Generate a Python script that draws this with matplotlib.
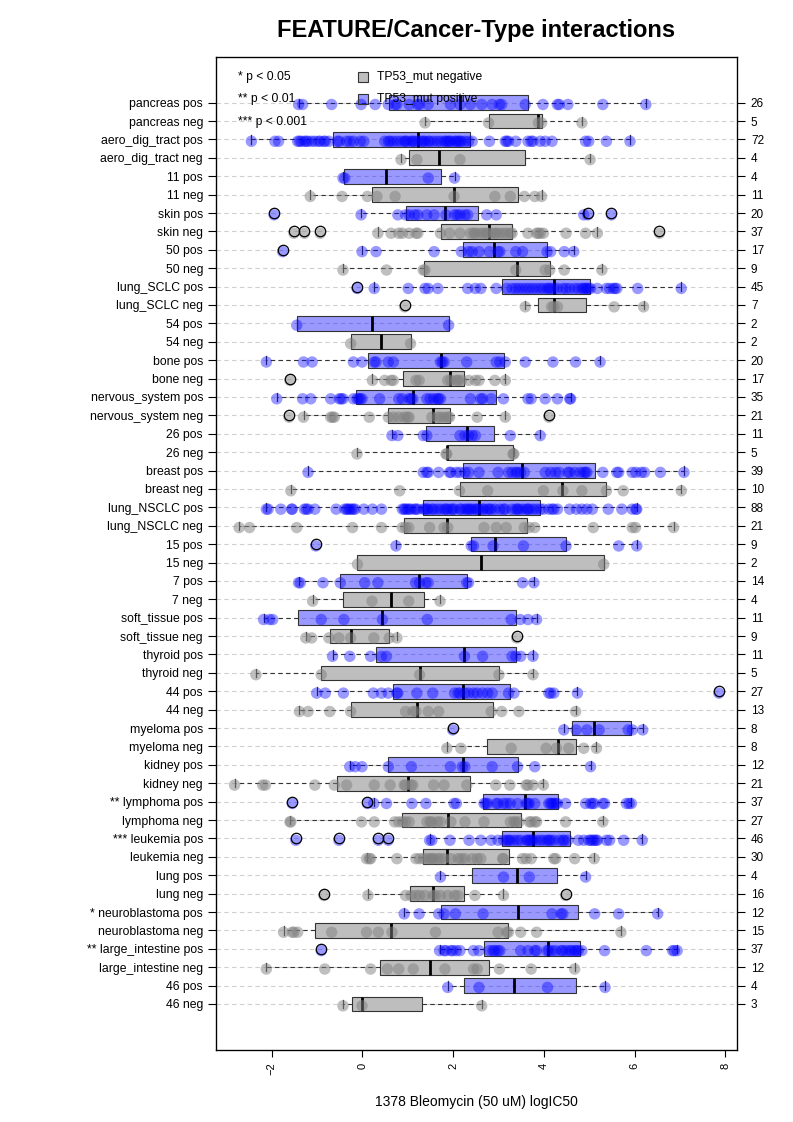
import numpy as np
import matplotlib.pyplot as plt

plt.rcParams['font.family'] = ['Liberation Sans', 'DejaVu Sans']

# rows listed top to bottom
labels = ["pancreas pos", "pancreas neg", "aero_dig_tract pos", "aero_dig_tract neg",
          "11 pos", "11 neg", "skin pos", "skin neg", "50 pos", "50 neg",
          "lung_SCLC pos", "lung_SCLC neg", "54 pos", "54 neg", "bone pos", "bone neg",
          "nervous_system pos", "nervous_system neg", "26 pos", "26 neg",
          "breast pos", "breast neg", "lung_NSCLC pos", "lung_NSCLC neg",
          "15 pos", "15 neg", "7 pos", "7 neg", "soft_tissue pos", "soft_tissue neg",
          "thyroid pos", "thyroid neg", "44 pos", "44 neg", "myeloma pos", "myeloma neg",
          "kidney pos", "kidney neg", "** lymphoma pos", "lymphoma neg",
          "*** leukemia pos", "leukemia neg", "lung pos", "lung neg",
          "* neuroblastoma pos", "neuroblastoma neg", "** large_intestine pos",
          "large_intestine neg", "46 pos", "46 neg"]

counts = [26, 5, 72, 4, 4, 11, 20, 37, 17, 9, 45, 7, 2, 2, 20, 17, 35, 21, 11, 5,
          39, 10, 88, 21, 9, 2, 14, 4, 11, 9, 11, 5, 27, 13, 8, 8, 12, 21, 37, 27,
          46, 30, 4, 16, 12, 15, 37, 12, 4, 3]

# box statistics
q1 = [0.59, 2.78, -0.65, 1.03, -0.41, 0.22, 0.95, 1.74, 2.22, 1.35,
      3.08, 3.88, -1.45, -0.26, 0.13, 0.90, -0.14, 0.57, 1.40, 1.86,
      2.21, 2.15, 1.34, 0.92, 2.40, -0.11, -0.49, -0.43, -1.43, -0.72,
      0.30, -0.91, 0.67, -0.26, 4.61, 2.74, 0.57, -0.56, 2.66, 0.88,
      3.07, 1.34, 2.42, 1.05, 1.74, -1.05, 2.68, 0.38, 2.24, -0.22]
med = [2.16, 3.88, 1.23, 1.68, 0.53, 2.02, 1.82, 2.80, 2.90, 3.40,
       4.22, 4.22, 0.22, 0.40, 1.74, 1.93, 1.12, 1.55, 2.30, 1.86,
       3.51, 4.40, 2.58, 1.86, 2.93, 2.61, 1.25, 0.62, 0.44, -0.26,
       2.25, 1.26, 2.21, 1.21, 5.11, 4.32, 2.22, 1.01, 3.58, 1.88,
       3.76, 1.86, 3.40, 1.55, 3.42, 0.63, 4.09, 1.48, 3.34, -0.01]
q3 = [3.66, 3.95, 2.38, 3.59, 1.74, 3.42, 2.55, 3.30, 4.07, 4.13,
      5.01, 4.93, 1.90, 1.06, 3.13, 2.24, 2.95, 1.94, 2.89, 3.32,
      5.12, 5.38, 3.92, 3.62, 4.49, 5.32, 2.31, 1.35, 3.39, 0.59,
      3.38, 3.01, 3.26, 2.88, 5.92, 4.72, 3.43, 2.38, 4.32, 3.49,
      4.57, 3.24, 4.30, 2.25, 4.76, 3.20, 4.80, 2.80, 4.72, 1.32]
wlo = [-1.41, 1.38, -2.45, 0.85, -0.43, -1.15, -0.03, 0.34, -0.01, -0.43,
       0.26, 3.59, -1.45, -0.26, -2.12, 0.22, -1.89, -1.30, 0.65, -0.12,
       -1.20, -1.58, -2.12, -2.72, 0.74, -0.11, -1.41, -1.10, -2.18, -1.25,
       -0.66, -2.35, -1.01, -1.39, 4.44, 1.86, -0.28, -2.82, 0.25, -1.60,
       1.48, 0.09, 1.72, 0.12, 0.92, -1.74, 1.70, -2.12, 1.88, -0.43]
whi = [6.25, 4.84, 5.90, 5.02, 2.03, 3.95, 4.88, 5.18, 4.66, 5.28,
       7.03, 6.20, 1.90, 1.06, 5.24, 3.15, 4.59, 3.15, 3.92, 3.34,
       7.09, 7.03, 6.05, 6.86, 6.05, 5.32, 3.78, 1.71, 3.84, 0.76,
       3.76, 3.76, 4.74, 4.70, 6.18, 5.16, 5.03, 3.99, 5.93, 5.30,
       6.17, 5.11, 4.92, 3.11, 6.51, 5.70, 6.94, 4.68, 5.35, 2.63]

outliers = [[], [], [], [], [], [], [-1.95, 4.97, 5.49], [-1.51, -1.28, -0.93, 6.55],
            [-1.76], [], [-0.12], [0.93], [], [], [], [-1.60], [], [-1.62, 4.11],
            [], [], [], [], [], [], [-1.03], [], [], [], [], [3.40],
            [], [], [7.86], [], [1.99], [], [], [], [-1.55, 0.11], [],
            [-1.47, -0.52, 0.35, 0.57], [], [], [-0.85, 4.48], [], [], [-0.91], [], [], []]

# individual cell lines (logIC50), one list per row
points = [
    [-1.41, -1.32, -0.68, -0.03, 0.28, 0.57, 0.72, 0.76, 1.03, 1.22, 1.26, 1.45, 1.94,
     2.15, 2.38, 2.63, 2.86, 3.02, 3.07, 3.59, 3.98, 4.30, 4.34, 4.53, 5.30, 6.25],
    [1.38, 2.78, 3.88, 3.95, 4.84],
    [-2.45, -1.93, -1.85, -1.43, -1.39, -1.35, -1.28, -1.24, -1.20, -1.12, -1.05, -0.97,
     -0.93, -0.85, -0.82, -0.74, -0.55, -0.51, -0.35, -0.28, -0.20, -0.05, 0.03, 0.49,
     0.57, 0.61, 0.68, 0.76, 0.84, 0.92, 0.95, 0.99, 1.07, 1.11, 1.15, 1.22, 1.30, 1.34,
     1.38, 1.45, 1.49, 1.57, 1.65, 1.72, 1.80, 1.84, 1.88, 1.92, 1.95, 2.03, 2.07, 2.11,
     2.15, 2.18, 2.26, 2.34, 2.42, 2.80, 3.15, 3.18, 3.22, 3.38, 3.65, 3.72, 3.76, 3.92,
     4.03, 4.18, 4.92, 4.99, 5.38, 5.90],
    [0.85, 1.20, 2.15, 5.02],
    [-0.43, -0.39, 1.45, 2.03],
    [-1.15, -0.45, 0.11, 0.32, 0.72, 2.02, 2.92, 3.26, 3.57, 3.80, 3.95],
    [-1.95, -0.03, 0.78, 0.95, 1.03, 1.15, 1.22, 1.42, 1.58, 1.84, 2.03, 2.09, 2.15,
     2.26, 2.32, 2.74, 2.95, 4.88, 4.97, 5.49],
    [-1.51, -1.28, -0.93, 0.34, 0.63, 0.80, 0.88, 1.03, 1.18, 1.22, 1.72, 1.92, 2.15,
     2.38, 2.45, 2.49, 2.57, 2.65, 2.72, 2.76, 2.84, 2.92, 2.95, 3.03, 3.11, 3.18, 3.26,
     3.30, 3.65, 3.84, 3.88, 3.92, 3.99, 4.49, 4.92, 5.18, 6.55],
    [-1.76, -0.01, 0.30, 1.58, 2.18, 2.34, 2.42, 2.57, 2.80, 2.99, 3.03, 3.38, 3.53,
     4.07, 4.15, 4.45, 4.66],
    [-0.43, 0.53, 1.34, 1.38, 3.38, 4.03, 4.13, 4.45, 5.28],
    [-0.12, 0.26, 1.01, 1.38, 1.45, 1.66, 2.32, 2.49, 2.61, 2.95, 3.18, 3.30, 3.38, 3.45,
     3.53, 3.61, 3.68, 3.76, 3.84, 3.92, 3.99, 4.07, 4.11, 4.15, 4.22, 4.30, 4.42, 4.49,
     4.57, 4.68, 4.76, 4.84, 4.88, 4.92, 4.95, 4.99, 5.03, 5.18, 5.38, 5.45, 5.53, 5.57,
     5.61, 6.07, 7.03],
    [0.93, 3.59, 4.17, 4.22, 4.30, 5.55, 6.20],
    [-1.45, 1.90],
    [-0.26, 1.06],
    [-2.12, -1.30, -1.11, -0.20, -0.01, 0.26, 0.30, 0.57, 0.68, 1.72, 1.76, 1.80, 2.30,
     2.95, 3.03, 3.15, 3.59, 4.20, 4.70, 5.24],
    [-1.60, 0.22, 0.49, 0.63, 0.68, 1.18, 1.25, 1.88, 1.95, 2.07, 2.11, 2.18, 2.34, 2.49,
     2.57, 2.92, 3.15],
    [-1.89, -1.32, -1.14, -0.70, -0.51, -0.47, -0.43, -0.20, -0.12, -0.08, -0.05, -0.01,
     0.38, 0.80, 0.88, 1.03, 1.07, 1.11, 1.42, 1.49, 1.57, 1.65, 1.68, 1.72, 2.38, 2.61,
     2.65, 2.84, 3.11, 3.65, 3.72, 4.03, 4.30, 4.57, 4.59],
    [-1.62, -1.30, -0.70, -0.66, -0.62, 0.15, 0.57, 0.68, 0.80, 0.92, 0.99, 1.03, 1.53,
     1.65, 1.72, 1.80, 1.88, 1.92, 2.53, 3.15, 4.11],
    [0.65, 0.78, 1.34, 1.42, 2.15, 2.26, 2.34, 2.42, 2.49, 3.26, 3.92],
    [-0.12, 1.84, 1.86, 3.32, 3.34],
    [-1.20, 1.34, 1.42, 1.45, 1.68, 1.92, 1.95, 2.07, 2.15, 2.26, 2.34, 2.57, 2.99, 3.22,
     3.30, 3.38, 3.42, 3.49, 3.57, 4.03, 4.15, 4.26, 4.34, 4.53, 4.57, 4.68, 4.80, 4.88,
     4.92, 4.95, 5.30, 5.61, 5.65, 5.95, 6.03, 6.15, 6.22, 6.57, 7.09],
    [-1.58, 0.82, 2.14, 2.76, 3.99, 4.42, 4.84, 5.38, 5.75, 7.03],
    [-2.12, -2.08, -1.80, -1.56, -1.55, -1.28, -1.24, -1.20, -1.05, -0.58, -0.39, -0.35,
     -0.32, -0.28, -0.24, -0.20, -0.16, 0.03, 0.22, 0.42, 0.88, 0.92, 0.95, 0.99, 1.03,
     1.07, 1.15, 1.18, 1.22, 1.34, 1.38, 1.42, 1.45, 1.53, 1.57, 1.65, 1.72, 1.80, 1.84,
     1.88, 1.95, 1.99, 2.03, 2.15, 2.18, 2.26, 2.30, 2.34, 2.38, 2.42, 2.49, 2.53, 2.57,
     2.65, 2.68, 2.76, 2.80, 2.84, 2.92, 3.03, 3.11, 3.15, 3.30, 3.38, 3.42, 3.45, 3.53,
     3.61, 3.65, 3.68, 3.76, 3.84, 3.92, 3.99, 4.11, 4.18, 4.22, 4.30, 4.57, 4.72, 4.84,
     4.95, 5.07, 5.42, 5.72, 5.95, 6.03, 6.05],
    [-2.72, -2.49, -1.45, -0.22, 0.42, 0.88, 0.95, 1.02, 1.48, 1.80, 1.88, 2.68, 2.95,
     3.17, 3.57, 3.68, 3.80, 5.09, 5.95, 6.02, 6.86],
    [-1.03, 0.74, 2.40, 2.45, 2.88, 3.55, 4.49, 5.65, 6.05],
    [-0.11, 5.32],
    [-1.41, -1.37, -0.87, -0.49, 0.05, 0.34, 1.17, 1.26, 1.40, 1.45, 2.30, 2.34, 3.53, 3.78],
    [-1.10, 0.21, 1.02, 1.71],
    [-2.18, -2.05, -1.98, -0.91, -0.41, 0.44, 1.43, 3.28, 3.48, 3.65, 3.84],
    [-1.25, -1.12, -0.74, -0.52, -0.26, 0.25, 0.59, 0.76, 3.40],
    [-0.66, -0.28, 0.18, 0.42, 0.53, 2.25, 2.65, 3.30, 3.38, 3.49, 3.76],
    [-2.35, -0.91, 1.26, 3.01, 3.76],
    [-1.01, -0.82, -0.42, 0.24, 0.42, 0.57, 0.76, 0.78, 1.20, 1.55, 2.03, 2.11, 2.15,
     2.26, 2.34, 2.45, 2.53, 2.65, 2.76, 2.86, 3.22, 3.34, 4.11, 4.15, 4.22, 4.74, 7.86],
    [-1.39, -1.20, -0.72, -0.26, 0.95, 1.11, 1.18, 1.45, 1.68, 2.84, 3.07, 3.45, 4.70],
    [1.99, 4.44, 4.71, 4.95, 5.22, 5.86, 5.95, 6.18],
    [1.86, 2.17, 3.28, 4.05, 4.28, 4.55, 4.88, 5.16],
    [-0.28, -0.16, -0.01, 0.57, 1.08, 1.94, 2.20, 2.26, 2.86, 3.42, 3.80, 5.03],
    [-2.82, -2.20, -2.14, -1.05, -0.62, -0.35, 0.26, 0.61, 0.92, 0.95, 1.07, 1.11, 1.57,
     1.80, 2.30, 2.94, 3.25, 3.61, 3.65, 3.76, 3.99],
    [-1.55, 0.11, 0.25, 0.53, 1.09, 1.40, 2.02, 2.07, 2.68, 2.72, 2.76, 2.95, 2.99, 3.11,
     3.18, 3.26, 3.42, 3.61, 3.65, 3.68, 3.80, 4.11, 4.15, 4.18, 4.22, 4.26, 4.30, 4.48,
     4.92, 5.03, 5.07, 5.11, 5.30, 5.34, 5.82, 5.88, 5.93],
    [-1.60, -1.58, -0.02, 0.26, 0.71, 0.80, 0.88, 0.95, 1.03, 1.42, 1.49, 1.53, 1.65,
     1.72, 1.95, 2.26, 2.68, 3.26, 3.34, 3.38, 3.45, 3.68, 3.72, 3.80, 3.84, 4.48, 5.30],
    [-1.47, -0.52, 0.35, 0.57, 1.48, 1.53, 1.93, 2.35, 2.61, 2.84, 2.99, 3.11, 3.18, 3.22,
     3.26, 3.34, 3.42, 3.49, 3.61, 3.65, 3.68, 3.72, 3.76, 3.84, 3.92, 3.99, 4.07, 4.11,
     4.15, 4.22, 4.34, 4.42, 4.45, 4.53, 4.76, 4.88, 4.99, 5.03, 5.07, 5.11, 5.15, 5.18,
     5.38, 5.45, 5.76, 6.17],
    [0.09, 0.15, 0.18, 0.76, 1.18, 1.26, 1.34, 1.42, 1.49, 1.53, 1.57, 1.65, 1.72, 1.80,
     1.95, 2.11, 2.18, 2.26, 2.42, 2.53, 2.61, 3.09, 3.11, 3.53, 3.61, 3.72, 4.22, 4.26,
     4.68, 5.11],
    [1.72, 3.11, 3.68, 4.92],
    [-0.85, 0.12, 0.95, 1.07, 1.18, 1.26, 1.38, 1.55, 1.61, 1.72, 1.88, 2.03, 2.11, 2.48,
     3.11, 4.48],
    [0.92, 1.25, 1.68, 1.80, 2.05, 2.66, 4.18, 4.38, 4.42, 5.12, 5.65, 6.51],
    [-1.74, -1.55, -1.51, -1.43, -0.68, 0.09, 0.35, 0.65, 1.61, 2.99, 3.18, 3.22, 3.49,
     3.84, 5.70],
    [-0.91, 1.70, 1.80, 1.84, 1.95, 1.99, 2.07, 2.15, 2.45, 2.57, 2.80, 2.88, 2.92, 2.99,
     3.03, 3.49, 3.65, 3.80, 3.84, 4.07, 4.11, 4.18, 4.26, 4.38, 4.42, 4.49, 4.57, 4.61,
     4.68, 4.72, 4.76, 4.84, 5.34, 6.26, 6.84, 6.88, 6.94],
    [-2.12, -0.83, 0.18, 0.55, 0.80, 1.12, 1.82, 2.45, 2.53, 3.02, 3.72, 4.68],
    [1.88, 2.57, 4.08, 5.35],
    [-0.43, -0.01, 2.63],
]

blue_fill = (0, 0, 1, 0.4)
blue_dot = (0, 0, 1, 0.4)
grey_fill = '#BEBEBE'
grey_dot = (0.5, 0.5, 0.5, 0.5)

nrow = len(labels)
ypos = np.arange(nrow)[::-1]          # top row gets the highest position
is_pos = np.array([lab.endswith('pos') for lab in labels])

fig = plt.figure(figsize=(7.93, 11.22), dpi=100)
ax = fig.add_axes([0.2718, 0.0642, 0.6576, 0.8853])

ax.set_xlim(-3.24, 8.26)
ax.set_ylim(-2.5, nrow + 1.5)
ax.set_yticks(ypos)
ax.set_yticklabels(labels, fontsize=8.8)
ax.yaxis.grid(True, linestyle=(0, (4, 3)), color='#CFCFCF', lw=0.8)
ax.set_axisbelow(True)

for group, face in [(True, blue_fill), (False, grey_fill)]:
    idx = np.where(is_pos == group)[0]
    stats = []
    for i in idx:
        stats.append(dict(q1=q1[i], med=med[i], q3=q3[i], whislo=wlo[i],
                          whishi=whi[i], fliers=outliers[i]))
    ax.bxp(stats, positions=ypos[idx], widths=0.8, capwidths=0.45,
           orientation='horizontal', patch_artist=True, manage_ticks=False,
           boxprops=dict(facecolor=face, edgecolor='#333333', lw=0.8),
           medianprops=dict(color='black', lw=2),
           whiskerprops=dict(color='#333333', lw=0.8, linestyle=(0, (4, 3))),
           capprops=dict(color='#333333', lw=0.9),
           flierprops=dict(marker='o', markerfacecolor='none', markeredgecolor='black',
                           markersize=7.5, mew=0.9, zorder=5))

for i in range(nrow):
    col = blue_dot if is_pos[i] else grey_dot
    ax.scatter(points[i], np.full(len(points[i]), ypos[i] - 0.1), s=68, color=col,
               edgecolors='none', zorder=4)

ax.tick_params(axis='y', length=6, width=0.8, pad=3)
ax.set_xticks([-2, 0, 2, 4, 6, 8])
ax.tick_params(axis='x', length=5, width=0.8, labelsize=8, labelrotation=90, pad=4)
ax.set_xlabel('1378 Bleomycin (50 uM) logIC50', fontsize=10, labelpad=14)
for sp in ax.spines.values():
    sp.set_linewidth(0.9)

# sample counts on the right hand side
ax2 = ax.twinx()
ax2.set_ylim(ax.get_ylim())
ax2.set_yticks(ypos)
ax2.set_yticklabels([str(c) for c in counts], fontsize=8.5)
ax2.tick_params(axis='y', length=6, width=0.8, pad=4)

# legends
for k, txt in enumerate(['* p < 0.05', '** p < 0.01', '*** p < 0.001']):
    ax.text(0.0435, 0.980 - 0.0228 * k, txt, transform=ax.transAxes, fontsize=8.7,
            va='center', ha='left')
for k, (txt, face) in enumerate([('TP53_mut negative', grey_fill),
                                 ('TP53_mut positive', blue_fill)]):
    ax.plot([0.283], [0.980 - 0.0228 * k], marker='s', ms=6.5, mfc=face, mec='#333333',
            mew=0.8, transform=ax.transAxes, clip_on=False, zorder=6)
    ax.text(0.309, 0.980 - 0.0228 * k, txt, transform=ax.transAxes, fontsize=8.7,
            va='center', ha='left', zorder=6)

fig.text(0.6, 0.973, 'FEATURE/Cancer-Type interactions', fontsize=17,
         fontweight='bold', ha='center', va='center')

fig.savefig('out.png', dpi=100)
